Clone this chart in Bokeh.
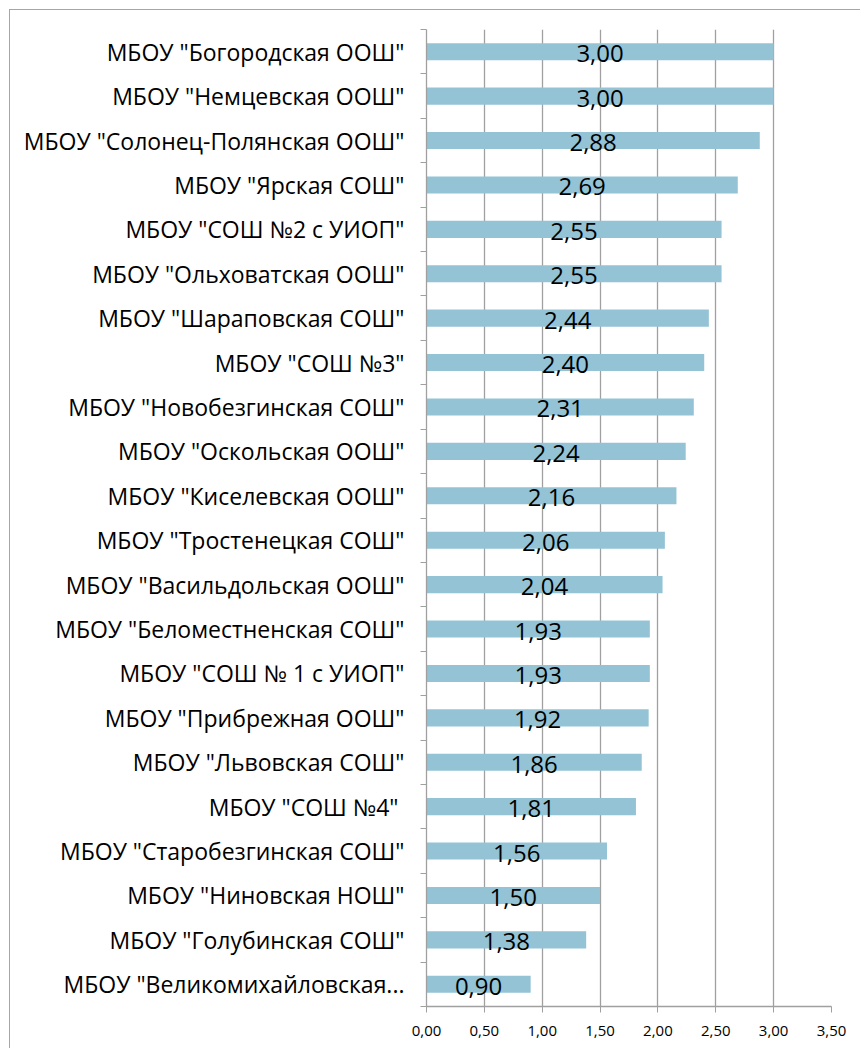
from bokeh.plotting import figure
from bokeh.models import ColumnDataSource, FixedTicker, CustomJSTickFormatter, Range1d
from bokeh.core.properties import value
from bokeh.embed import file_html
from bokeh.resources import INLINE

schools = [
    'МБОУ "Богородская ООШ"',
    'МБОУ "Немцевская ООШ"',
    'МБОУ "Солонец-Полянская ООШ"',
    'МБОУ "Ярская СОШ"',
    'МБОУ "СОШ №2 с УИОП"',
    'МБОУ "Ольховатская ООШ"',
    'МБОУ "Шараповская СОШ"',
    'МБОУ "СОШ №3"',
    'МБОУ "Новобезгинская СОШ"',
    'МБОУ "Оскольская ООШ"',
    'МБОУ "Киселевская ООШ"',
    'МБОУ "Тростенецкая СОШ"',
    'МБОУ "Васильдольская ООШ"',
    'МБОУ "Беломестненская СОШ"',
    'МБОУ "СОШ № 1 с УИОП"',
    'МБОУ "Прибрежная ООШ"',
    'МБОУ "Львовская СОШ"',
    'МБОУ "СОШ  №4"',
    'МБОУ "Старобезгинская СОШ"',
    'МБОУ "Ниновская НОШ"',
    'МБОУ "Голубинская СОШ"',
    'МБОУ "Великомихайловская...',
]
scores = [3.00, 3.00, 2.88, 2.69, 2.55, 2.55, 2.44, 2.40, 2.31, 2.24, 2.16,
          2.06, 2.04, 1.93, 1.93, 1.92, 1.86, 1.81, 1.56, 1.50, 1.38, 0.90]
x_ticks = [0.0, 0.5, 1.0, 1.5, 2.0, 2.5, 3.0, 3.5]

n = len(schools)
ypos = [2 * (n - 1 - i) + 1 for i in range(n)]
labels = [f"{v:.2f}".replace(".", ",") for v in scores]
src = ColumnDataSource(dict(y=ypos, v=scores, half=[v / 2 for v in scores], lab=labels))

FONT = "Open Sans"
p = figure(width=851, height=1039, output_backend="svg", toolbar_location=None,
           x_range=Range1d(0, 3.5), y_range=Range1d(0, 2 * n),
           min_border_left=416, min_border_right=30, min_border_top=19, min_border_bottom=43)
p.styles = {"border-left": "1px solid #a6a6a6", "border-top": "1px solid #a6a6a6",
            "margin-left": "9px", "margin-top": "9px"}
p.outline_line_color = None
p.background_fill_color = "white"
p.border_fill_color = "white"

p.hbar(y="y", right="v", left=0, height=0.77, source=src, fill_color="#93C3D5", line_color=None)
p.text(x="half", y="y", text="lab", source=src, text_align="center", text_baseline="middle",
       y_offset=2, text_font=value(FONT), text_font_size="24px", text_color="black")

# grid
p.ygrid.grid_line_color = None
p.xgrid.ticker = FixedTicker(ticks=x_ticks)
p.xgrid.grid_line_color = "#a0a0a0"
p.xgrid.grid_line_width = 1.3

# x axis
xa = p.xaxis[0]
xa.ticker = FixedTicker(ticks=x_ticks)
xa.formatter = CustomJSTickFormatter(code="return tick.toFixed(2).replace('.', ',');")
xa.axis_line_color = "#a0a0a0"
xa.axis_line_width = 1.3
xa.major_tick_line_color = "#a0a0a0"
xa.major_tick_out = 6
xa.major_tick_in = 0
xa.minor_tick_line_color = None
xa.major_label_text_font = FONT
xa.major_label_text_font_size = "15px"
xa.major_label_text_color = "black"
xa.major_label_standoff = 13

# y axis
ya = p.yaxis[0]
ya.ticker = FixedTicker(ticks=ypos, minor_ticks=list(range(0, 2 * n + 1, 2)))
ya.major_label_overrides = {y: s for y, s in zip(ypos, schools)}
ya.axis_line_color = "#a0a0a0"
ya.axis_line_width = 1.3
ya.major_tick_line_color = None
ya.major_tick_out = 0
ya.major_tick_in = 0
ya.minor_tick_line_color = "#a0a0a0"
ya.minor_tick_out = 6
ya.minor_tick_in = 0
ya.major_label_text_font = FONT
ya.major_label_text_font_size = "23px"
ya.major_label_text_color = "black"
ya.major_label_standoff = 16

open("out.html", "w").write(file_html(p, INLINE))
